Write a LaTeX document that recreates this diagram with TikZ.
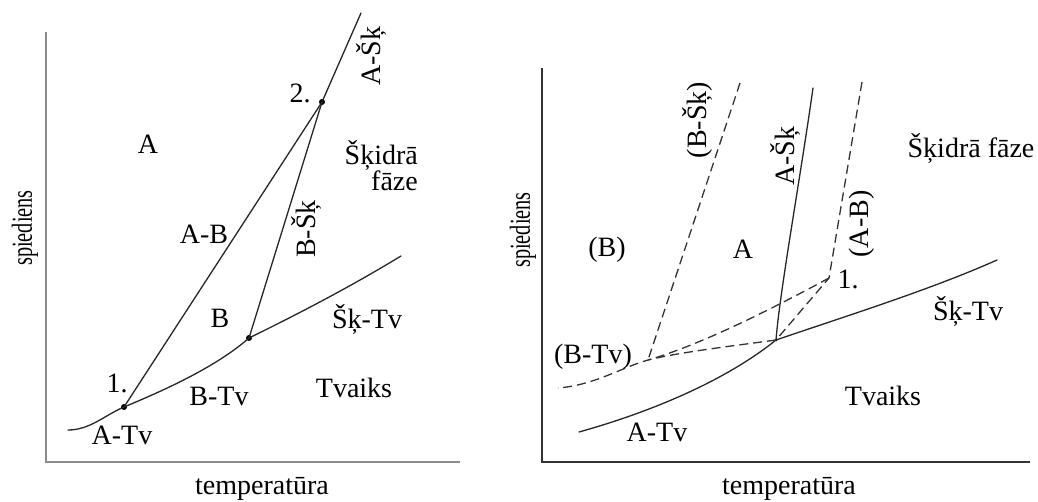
\documentclass[tikz,border=0pt]{standalone}
\usepackage{fontspec}
\setmainfont{Liberation Serif}
\begin{document}
\begin{tikzpicture}[x=1pt,y=-1pt,
 lbl/.style={font=\fontsize{28}{30}\selectfont, inner sep=0pt},
 rlbl/.style={lbl, rotate=90},
 phase/.style={line width=1.3pt, draw=black!85, line cap=round},
 meta/.style={line width=1.3pt, draw=black!80, dash pattern=on 9pt off 5pt},
 axl/.style={line width=2pt, draw=black!45},
 axr/.style={line width=1.6pt, draw=black!80},
 dot/.style={circle, fill=black, inner sep=0pt, minimum size=6pt},
 sdot/.style={circle, fill=black, inner sep=0pt, minimum size=3pt}]
\useasboundingbox (0,0) rectangle (1038,501);

% ---------------- left diagram ----------------
\coordinate (LO) at (46,462);
\coordinate (LYt) at (46,32);
\coordinate (LXe) at (460,462);
\draw[axl] (LYt) -- (LO) -- (LXe);

\coordinate (s0) at (68,430);
\coordinate (se) at (401,256);
\coordinate (at) at (361,13);
\node[dot] (p1) at (124,407) {};
\node[dot] (p2) at (322,102) {};
\node[dot] (pj) at (249,338) {};

\draw[phase] (s0) .. controls (90,430) and (105,415) .. (p1.center)
  .. controls (160,392) and (215,368) .. (pj.center)
  .. controls (300,313) and (350,287) .. (se);
\draw[phase] (p1.center) -- (p2.center) -- (at);
\draw[phase] (pj.center) -- (p2.center);

\node[lbl, anchor=base] (lA) at (148,153) {A};
\node[lbl, anchor=base] (l2) at (300,102) {2.};
\node[rlbl] (lASk) at (371,56) {A-Šķ};
\node[lbl, font=\fontsize{28}{23}\selectfont, align=right, anchor=north east] (lSk) at (418,140) {Šķidrā\\fāze};
\node[lbl, anchor=base] (lAB) at (204,243) {A-B};
\node[rlbl] (lBSk) at (306,229) {B-Šķ};
\node[lbl, anchor=base] (lB) at (220,327) {B};
\node[lbl, anchor=base] (lSkTv) at (367,328) {Šķ-Tv};
\node[lbl, anchor=base] (l1) at (117,392) {1.};
\node[lbl, anchor=base] (lBTv) at (219,405) {B-Tv};
\node[lbl, anchor=base] (lTv) at (354,397) {Tvaiks};
\node[lbl, anchor=base] (lATv) at (122,444) {A-Tv};
\node[lbl, anchor=base] (lT) at (262,494) {temperatūra};
\node[rlbl] (lP) at (25,228) {\scalebox{0.7}[1]{\fontsize{29}{30}\selectfont spiediens}};

% ---------------- right diagram ----------------
\coordinate (RO) at (542,462);
\coordinate (RYt) at (542,68);
\coordinate (RXe) at (1030,462);
\draw[axr] (RYt) -- (RO) -- (RXe);

\node[sdot] (tp) at (776,340) {};
\coordinate (ra) at (579,432);
\coordinate (re) at (997,260);
\coordinate (rt) at (813,88);
\coordinate (q) at (648,360);
\coordinate (bt) at (740,83);
\coordinate (bl) at (558,388);
\coordinate (p1r) at (829,278);
\coordinate (abt) at (862,82);

\draw[phase] (ra) .. controls (640,415) and (720,385) .. (tp.center);
\draw[phase] (tp.center) .. controls (840,318) and (930,290) .. (re);
\draw[phase] (tp.center) .. controls (780,290) and (800,180) .. (rt);

\draw[meta] (bt) -- (q);
\draw[meta] (abt) -- (p1r) -- (tp.center);
\draw[meta] (p1r) .. controls (770,310) and (700,345) .. (q);
\draw[meta] (tp.center) .. controls (740,345) and (680,352) .. (q)
  .. controls (620,368) and (595,385) .. (bl);

\node[rlbl] (rBSk) at (697,120) {(B-Šķ)};
\node[rlbl] (rASk) at (785,156) {A-Šķ};
\node[rlbl] (rAB) at (862,224) {(A-B)};
\node[lbl, anchor=base] (rSk) at (971,157) {Šķidrā fāze};
\node[lbl] (rB) at (607,250) {(B)};
\node[lbl, anchor=base] (rA) at (743,258) {A};
\node[lbl, anchor=base] (r1) at (848,288) {1.};
\node[lbl, anchor=base] (rSkTv) at (968,320) {Šķ-Tv};
\node[lbl] (rBTv) at (593,357) {(B-Tv)};
\node[lbl, anchor=base] (rTv) at (883,405) {Tvaiks};
\node[lbl, anchor=base] (rATv) at (657,441) {A-Tv};
\node[lbl, anchor=base] (rT) at (789,494) {temperatūra};
\node[rlbl] (rP) at (523,230) {\scalebox{0.7}[1]{\fontsize{29}{30}\selectfont spiediens}};
\end{tikzpicture}
\end{document}
